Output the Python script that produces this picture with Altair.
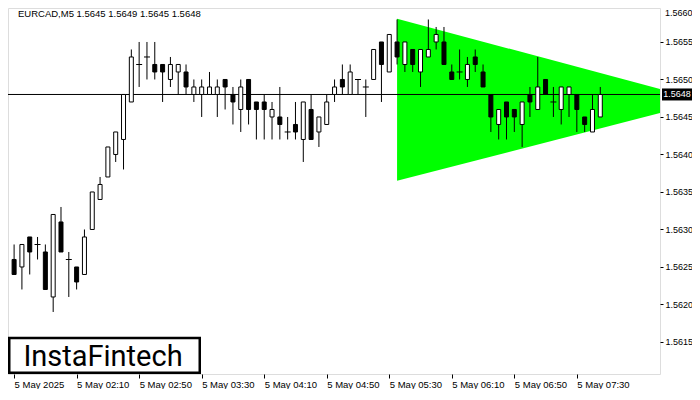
import altair as alt
import pandas as pd

symbol_caption = "EURCAD,M5  1.5645 1.5649 1.5645 1.5648"
logo_text = "InstaFintech"

opens = [1.5626, 1.5625, 1.5629, 1.5628, 1.5627, 1.5621, 1.5631, 1.5626, 1.5625, 1.5624,
         1.5630, 1.5634, 1.5637, 1.5640, 1.5642, 1.5647, 1.5652, 1.5653, 1.5652, 1.5652,
         1.5650, 1.5651, 1.5651, 1.5648, 1.5648, 1.5648, 1.5648, 1.5650, 1.5648, 1.5646,
         1.5650, 1.5647, 1.5647, 1.5645, 1.5645, 1.5643, 1.5644, 1.5642, 1.5646, 1.5643,
         1.5644, 1.5648, 1.5650, 1.5648, 1.5650, 1.5649, 1.5650, 1.5655, 1.5651, 1.5655,
         1.5652, 1.5654, 1.5651, 1.5653, 1.5655, 1.5655, 1.5651, 1.5651, 1.5650, 1.5653,
         1.5651, 1.5648, 1.5644, 1.5647, 1.5646, 1.5644, 1.5648, 1.5646, 1.5650, 1.5647,
         1.5646, 1.5648, 1.5648, 1.5645, 1.5643, 1.5645]
highs = [1.5628, 1.5628, 1.5629, 1.5629, 1.5628, 1.5632, 1.5633, 1.5627, 1.5625, 1.5630,
         1.5635, 1.5637, 1.5641, 1.5643, 1.5648, 1.5654, 1.5655, 1.5655, 1.5655, 1.5652,
         1.5653, 1.5652, 1.5652, 1.5650, 1.5650, 1.5651, 1.5650, 1.5650, 1.5649, 1.5650,
         1.5650, 1.5647, 1.5648, 1.5647, 1.5649, 1.5645, 1.5647, 1.5647, 1.5648, 1.5645,
         1.5648, 1.5650, 1.5652, 1.5652, 1.5650, 1.5650, 1.5654, 1.5655, 1.5656, 1.5658,
         1.5655, 1.5654, 1.5654, 1.5658, 1.5657, 1.5657, 1.5652, 1.5654, 1.5653, 1.5654,
         1.5652, 1.5648, 1.5646, 1.5647, 1.5646, 1.5647, 1.5649, 1.5653, 1.5650, 1.5649,
         1.5649, 1.5649, 1.5648, 1.5645, 1.5648, 1.5649]
lows = [1.5624, 1.5622, 1.5624, 1.5626, 1.5622, 1.5619, 1.5627, 1.5621, 1.5622, 1.5624,
        1.5630, 1.5634, 1.5637, 1.5639, 1.5638, 1.5647, 1.5649, 1.5650, 1.5650, 1.5647,
        1.5649, 1.5648, 1.5648, 1.5647, 1.5645, 1.5648, 1.5645, 1.5646, 1.5644, 1.5643,
        1.5644, 1.5642, 1.5642, 1.5642, 1.5642, 1.5642, 1.5642, 1.5639, 1.5642, 1.5641,
        1.5644, 1.5647, 1.5648, 1.5648, 1.5648, 1.5645, 1.5650, 1.5647, 1.5651, 1.5652,
        1.5651, 1.5651, 1.5649, 1.5653, 1.5654, 1.5652, 1.5650, 1.5650, 1.5649, 1.5651,
        1.5649, 1.5643, 1.5642, 1.5642, 1.5643, 1.5641, 1.5645, 1.5646, 1.5648, 1.5645,
        1.5644, 1.5645, 1.5643, 1.5643, 1.5643, 1.5645]
closes = [1.5624, 1.5628, 1.5627, 1.5628, 1.5622, 1.5632, 1.5627, 1.5626, 1.5623, 1.5629,
          1.5635, 1.5636, 1.5641, 1.5643, 1.5648, 1.5653, 1.5652, 1.5653, 1.5651, 1.5651,
          1.5652, 1.5652, 1.5649, 1.5649, 1.5649, 1.5649, 1.5649, 1.5649, 1.5647, 1.5649,
          1.5646, 1.5646, 1.5646, 1.5646, 1.5644, 1.5643, 1.5643, 1.5647, 1.5642, 1.5645,
          1.5647, 1.5649, 1.5649, 1.5651, 1.5650, 1.5649, 1.5654, 1.5652, 1.5656, 1.5653,
          1.5655, 1.5652, 1.5654, 1.5654, 1.5656, 1.5652, 1.5650, 1.5651, 1.5652, 1.5652,
          1.5649, 1.5645, 1.5646, 1.5645, 1.5645, 1.5647, 1.5647, 1.5649, 1.5648, 1.5647,
          1.5649, 1.5649, 1.5646, 1.5644, 1.5646, 1.5648]

x_tick_bars = [0, 8, 16, 24, 32, 40, 48, 56, 64, 72]
x_tick_labels = ["5 May 2025", "5 May 02:10", "5 May 02:50", "5 May 03:30", "5 May 04:10",
                 "5 May 04:50", "5 May 05:30", "5 May 06:10", "5 May 06:50", "5 May 07:30"]
y_tick_values = [1.5615, 1.5620, 1.5625, 1.5630, 1.5635, 1.5640, 1.5645, 1.5650, 1.5655]
y_top_label = [1.5660]

tri_bars = [49, 88.5]
tri_upper = [1.56581, 1.56471]
tri_lower = [1.56365, 1.56471]

last_price = 1.5648

W, H = 652, 366
FONT = "Liberation Sans"
FS = 9.5
YFS = 9

df = pd.DataFrame({"bar": list(range(len(opens))), "open": opens, "high": highs,
                   "low": lows, "close": closes})
df["body"] = ["white" if c > o else "black" for o, c in zip(opens, closes)]

tri = pd.DataFrame({"bar": tri_bars, "upper": tri_upper, "lower": tri_lower})

xs = alt.Scale(domain=[-0.14, 82.0], nice=False, zero=False)
ys = alt.Scale(domain=[1.561073, 1.565953], nice=False, zero=False)

lab_arr = "[" + ",".join("'" + t + "'" for t in x_tick_labels) + "]"
val_arr = "[" + ",".join(str(v) for v in x_tick_bars) + "]"

x_axis = alt.Axis(values=x_tick_bars, labelExpr=f"{lab_arr}[indexof({val_arr}, datum.value)]",
                  title=None, orient="bottom", tickSize=4, labelAlign="left", labelPadding=1,
                  labelFlush=False, labelOverlap=False, domain=False, grid=False,
                  labelFont=FONT, labelFontSize=FS, labelColor="black", tickColor="black")
y_axis = alt.Axis(values=y_tick_values, format=".4f", title=None, orient="right", tickSize=3,
                  labelPadding=2, labelFlush=False, labelOverlap=False, domain=False,
                  grid=False, labelFont=FONT, labelFontSize=YFS, labelColor="black",
                  tickColor="black")


def X(f):
    return alt.X(f"{f}:Q", scale=xs, axis=x_axis)


def Y(f):
    return alt.Y(f"{f}:Q", scale=ys, axis=y_axis)


triangle = alt.Chart(tri).mark_area(color="#00FF00", opacity=1, clip=True).encode(
    x=X("bar"), y=Y("upper"), y2="lower")

price_df = pd.DataFrame({"p": [last_price], "t": [f"{last_price:.4f}"]})
price_line = alt.Chart(price_df).mark_rule(color="black", strokeWidth=1).encode(y=Y("p"))

base = alt.Chart(df)
wicks = base.mark_rule(color="black", strokeWidth=1).encode(x=X("bar"), y=Y("low"), y2="high")
bodies = base.transform_filter("datum.open != datum.close").mark_bar(
    size=4, stroke="black", strokeWidth=1, opacity=1).encode(
    x=X("bar"), y=Y("open"), y2="close", fill=alt.Fill("body:N", scale=None))
dojis = base.transform_filter("datum.open == datum.close").mark_tick(
    orient="horizontal", size=6, thickness=1, color="black", opacity=1).encode(
    x=X("bar"), y=Y("open"))

BOX = "M-1,-0.4L1,-0.4L1,0.4L-1,0.4Z"
price_box = alt.Chart(price_df).mark_point(shape=BOX, size=900, filled=True, color="black",
                                           opacity=1).encode(x=alt.value(W + 17), y=Y("p"))
price_text = alt.Chart(price_df).mark_text(color="white", font=FONT, fontSize=YFS, align="center",
                                           baseline="middle").encode(
    x=alt.value(W + 17), y=Y("p"), text="t:N")

top_lab = alt.Chart(pd.DataFrame({"v": y_top_label})).mark_text(
    color="black", font=FONT, fontSize=YFS, align="left", baseline="top", dy=5).encode(
    x=alt.value(W + 5), y=Y("v"), text=alt.Text("v:Q", format=".4f"))

caption = alt.Chart(pd.DataFrame({"t": [symbol_caption]})).mark_text(
    color="black", font=FONT, fontSize=FS, align="left", baseline="middle").encode(
    x=alt.value(10), y=alt.value(6), text="t:N")

logo_box = alt.Chart(pd.DataFrame({"t": [logo_text]})).mark_rect(
    fill="white", stroke="black", strokeWidth=2.5).encode(
    x=alt.value(1.25), x2=alt.value(191.75), y=alt.value(H - 36), y2=alt.value(H - 1.25))
logo = alt.Chart(pd.DataFrame({"t": [logo_text]})).mark_text(
    color="black", font="Roboto", fontSize=29, align="center", baseline="alphabetic").encode(
    x=alt.value(95), y=alt.value(H - 8), text="t:N")

chart = alt.layer(triangle, price_line, wicks, bodies, dojis, price_box, price_text, top_lab,
                  caption, logo_box, logo).properties(
    width=W, height=H,
    padding={"left": 0, "top": 0, "right": 32, "bottom": 15},
    autosize=alt.AutoSizeParams(type="none"),
).configure_view(stroke="black", strokeWidth=1).configure(background="white")

chart.save("out.html", embed_options={"renderer": "svg", "actions": False})
